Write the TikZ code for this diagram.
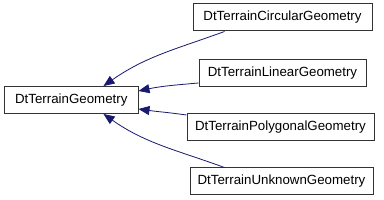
\documentclass[tikz,border=0pt]{standalone}
\usepackage{fontspec}
\setmainfont{Liberation Sans}
\usetikzlibrary{arrows.meta}
\definecolor{edgeblue}{HTML}{191970}
\begin{document}
\begin{tikzpicture}[x=1pt,y=-1pt,
  box/.style={draw=black!80, fill=white, line width=1pt, minimum height=27pt, inner sep=0pt, font=\fontsize{13.3}{15}\selectfont},
  edge/.style={draw=edgeblue, line width=0.8pt, -{Triangle[length=11pt,width=9pt]}}]
\useasboundingbox[fill=white] (0,0) rectangle (384,200);
\node[box, minimum width=133.5pt] (base) at (71.25,100) {DtTerrainGeometry};
\node[box, minimum width=179pt] (circ) at (282.5,17.5) {DtTerrainCircularGeometry};
\node[box, minimum width=167pt] (lin) at (282.5,73) {DtTerrainLinearGeometry};
\node[box, minimum width=187pt] (poly) at (280.5,127) {DtTerrainPolygonalGeometry};
\node[box, minimum width=183pt] (unk) at (281.5,181.5) {DtTerrainUnknownGeometry};
\draw[edge] ([xshift=32pt]circ.south west) to[out=200,in=35] ([xshift=-35pt]base.north east);
\draw[edge] ([yshift=4pt]lin.south west) to[out=185,in=12] ([yshift=9pt]base.east);
\draw[edge] ([yshift=-2pt]poly.north west) to[out=172,in=-8] ([yshift=-9pt]base.east);
\draw[edge] ([xshift=35pt]unk.north west) to[out=160,in=-35] ([xshift=-35pt]base.south east);
\end{tikzpicture}
\end{document}
